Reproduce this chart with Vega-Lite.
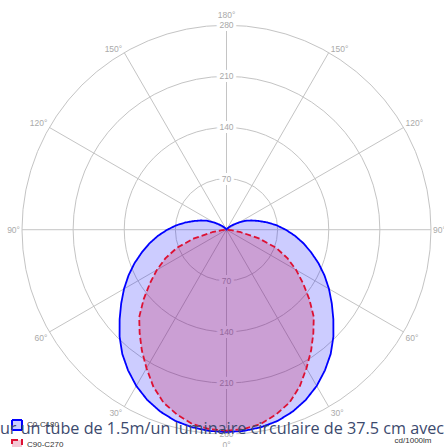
{
  "$schema": "https://vega.github.io/schema/vega-lite/v6.json",
  "width": 444,
  "height": 447,
  "autosize": "none",
  "padding": 0,
  "background": "white",
  "config": {
    "view": {"stroke": null},
    "legend": {"title": null, "symbolType": "square", "symbolSize": 100, "symbolStrokeWidth": 2, "labelFontSize": 8, "labelFont": "Liberation Sans", "labelColor": "#333333", "rowPadding": 2, "labelOffset": 4, "padding": 0, "symbolOffset": 0}
  },
  "title": {
    "text": "ur un tube de 1.5m/un luminaire circulaire de 37.5 cm avec",
    "orient": "bottom",
    "frame": "group",
    "anchor": "middle",
    "baseline": "alphabetic",
    "offset": -20,
    "fontSize": 16.2,
    "font": "Open Sans",
    "fontWeight": "normal",
    "color": "#3c4a6e"
  },
  "layer": [
    {
      "data": {"values": [{"r": 70}, {"r": 140}, {"r": 210}, {"r": 280}]},
      "transform": [{"calculate": "0", "as": "ox"}],
      "mark": {"type": "point", "shape": "circle", "filled": false, "stroke": "#c4c4c4", "strokeWidth": 1, "opacity": 1},
      "encoding": {
        "x": {
          "field": "ox", "type": "quantitative",
          "scale": {"domain": [-310.1, 297.8], "nice": false, "zero": false},
          "axis": {"domain": false, "ticks": false, "labels": false, "grid": false, "title": "cd/1000lm", "titleX": 431, "titleY": -5, "titleAlign": "right", "titleAnchor": "end", "titleBaseline": "alphabetic", "titleFontSize": 8, "titleFontWeight": "normal", "titleColor": "#333333", "titleFont": "Liberation Sans"}
        },
        "y": {
          "field": "ox", "type": "quantitative",
          "scale": {"domain": [-297.5, 314.5], "nice": false, "zero": false},
          "axis": null
        },
        "size": {"field": "r", "type": "quantitative", "scale": {"type": "pow", "exponent": 2, "domain": [0, 280], "range": [0, 167281], "zero": true, "nice": false}, "legend": null}
      }
    },
    {
      "data": {"values": [{"p": 0}, {"p": 30}, {"p": 60}, {"p": 90}, {"p": 120}, {"p": 150}, {"p": 180}, {"p": 210}, {"p": 240}, {"p": 270}, {"p": 300}, {"p": 330}]},
      "transform": [
        {"calculate": "0", "as": "ox"},
        {"calculate": "280*sin(datum.p*PI/180)", "as": "ex"},
        {"calculate": "-280*cos(datum.p*PI/180)", "as": "ey"}
      ],
      "mark": {"type": "rule", "stroke": "#c4c4c4", "strokeWidth": 1},
      "encoding": {
        "x": {"field": "ox", "type": "quantitative"},
        "y": {"field": "ox", "type": "quantitative"},
        "x2": {"field": "ex"},
        "y2": {"field": "ey"}
      }
    },
    {
      "data": {"values": [{"p": 180, "r": 70}, {"p": 180, "r": 140}, {"p": 180, "r": 210}, {"p": 180, "r": 280}, {"p": 0, "r": 70}, {"p": 0, "r": 140}, {"p": 0, "r": 210}, {"p": 0, "r": 280}]},
      "transform": [{"calculate": "0", "as": "ox"}, {"calculate": "-datum.r*cos(datum.p*PI/180)", "as": "ly"}],
      "mark": {"type": "text", "fontSize": 8.5, "font": "Liberation Sans", "stroke": "white", "strokeWidth": 6, "fill": "white", "align": "center", "baseline": "middle"},
      "encoding": {
        "x": {"field": "ox", "type": "quantitative"},
        "y": {"field": "ly", "type": "quantitative"},
        "text": {"field": "r", "type": "quantitative"}
      }
    },
    {
      "data": {"values": [{"p": 180, "r": 70}, {"p": 180, "r": 140}, {"p": 180, "r": 210}, {"p": 180, "r": 280}, {"p": 0, "r": 70}, {"p": 0, "r": 140}, {"p": 0, "r": 210}, {"p": 0, "r": 280}]},
      "transform": [{"calculate": "0", "as": "ox"}, {"calculate": "-datum.r*cos(datum.p*PI/180)", "as": "ly"}],
      "mark": {"type": "text", "fontSize": 8.5, "font": "Liberation Sans", "fill": "#a8a8a8", "align": "center", "baseline": "middle"},
      "encoding": {
        "x": {"field": "ox", "type": "quantitative"},
        "y": {"field": "ly", "type": "quantitative"},
        "text": {"field": "r", "type": "quantitative"}
      }
    },
    {
      "data": {"values": [
        {"p": 0, "lab": "0°"}, {"p": 30, "lab": "30°"}, {"p": 60, "lab": "60°"}, {"p": 90, "lab": "90°"},
        {"p": 120, "lab": "120°"}, {"p": 150, "lab": "150°"}, {"p": 180, "lab": "180°"},
        {"p": 210, "lab": "150°"}, {"p": 240, "lab": "120°"}, {"p": 270, "lab": "90°"},
        {"p": 300, "lab": "60°"}, {"p": 330, "lab": "30°"}
      ]},
      "transform": [
        {"calculate": "280*sin(datum.p*PI/180)", "as": "lx"},
        {"calculate": "-280*cos(datum.p*PI/180)", "as": "ly"}
      ],
      "mark": {
        "type": "text", "fontSize": 8.5, "font": "Liberation Sans", "fill": "#aaaaaa",
        "align": {"expr": "datum.p==0||datum.p==180?'center':datum.p<180?'left':'right'"},
        "baseline": {"expr": "datum.p==180?'bottom':(datum.p==90||datum.p==270)?'middle':(datum.p>90&&datum.p<270)?'alphabetic':'top'"},
        "dx": {"expr": "datum.p==0||datum.p==180?0:datum.p<180?2:-2"},
        "dy": {"expr": "datum.p==180?-5:datum.p==0?7:(datum.p==90||datum.p==270)?0:(datum.p>90&&datum.p<270)?-1:2"}
      },
      "encoding": {
        "x": {"field": "lx", "type": "quantitative"},
        "y": {"field": "ly", "type": "quantitative"},
        "text": {"field": "lab", "type": "nominal"}
      }
    },
    {
      "data": {"values": [
        {"s": "C0-C180", "p": 0, "i": 277}, {"s": "C0-C180", "p": 5, "i": 276.5}, {"s": "C0-C180", "p": 10, "i": 274.5}, {"s": "C0-C180", "p": 15, "i": 271},
        {"s": "C0-C180", "p": 20, "i": 265}, {"s": "C0-C180", "p": 25, "i": 257}, {"s": "C0-C180", "p": 30, "i": 247}, {"s": "C0-C180", "p": 35, "i": 235},
        {"s": "C0-C180", "p": 40, "i": 222}, {"s": "C0-C180", "p": 45, "i": 207}, {"s": "C0-C180", "p": 50, "i": 191}, {"s": "C0-C180", "p": 55, "i": 176},
        {"s": "C0-C180", "p": 60, "i": 162}, {"s": "C0-C180", "p": 65, "i": 148}, {"s": "C0-C180", "p": 70, "i": 134}, {"s": "C0-C180", "p": 75, "i": 120},
        {"s": "C0-C180", "p": 80, "i": 107}, {"s": "C0-C180", "p": 85, "i": 94}, {"s": "C0-C180", "p": 90, "i": 81}, {"s": "C0-C180", "p": 95, "i": 69},
        {"s": "C0-C180", "p": 100, "i": 57}, {"s": "C0-C180", "p": 105, "i": 46}, {"s": "C0-C180", "p": 110, "i": 37}, {"s": "C0-C180", "p": 115, "i": 29},
        {"s": "C0-C180", "p": 120, "i": 20}, {"s": "C0-C180", "p": 125, "i": 13}, {"s": "C0-C180", "p": 130, "i": 8.5}, {"s": "C0-C180", "p": 135, "i": 5},
        {"s": "C0-C180", "p": 140, "i": 2.5}, {"s": "C0-C180", "p": 145, "i": 1}, {"s": "C0-C180", "p": 150, "i": 0}, {"s": "C0-C180", "p": 180, "i": 0},
        {"s": "C0-C180", "p": 210, "i": 0}, {"s": "C0-C180", "p": 215, "i": 1}, {"s": "C0-C180", "p": 220, "i": 2.5}, {"s": "C0-C180", "p": 225, "i": 5},
        {"s": "C0-C180", "p": 230, "i": 8.5}, {"s": "C0-C180", "p": 235, "i": 13}, {"s": "C0-C180", "p": 240, "i": 20}, {"s": "C0-C180", "p": 245, "i": 29},
        {"s": "C0-C180", "p": 250, "i": 37}, {"s": "C0-C180", "p": 255, "i": 46}, {"s": "C0-C180", "p": 260, "i": 57}, {"s": "C0-C180", "p": 265, "i": 69},
        {"s": "C0-C180", "p": 270, "i": 81}, {"s": "C0-C180", "p": 275, "i": 94}, {"s": "C0-C180", "p": 280, "i": 107}, {"s": "C0-C180", "p": 285, "i": 120},
        {"s": "C0-C180", "p": 290, "i": 134}, {"s": "C0-C180", "p": 295, "i": 148}, {"s": "C0-C180", "p": 300, "i": 162}, {"s": "C0-C180", "p": 305, "i": 176},
        {"s": "C0-C180", "p": 310, "i": 191}, {"s": "C0-C180", "p": 315, "i": 207}, {"s": "C0-C180", "p": 320, "i": 222}, {"s": "C0-C180", "p": 325, "i": 235},
        {"s": "C0-C180", "p": 330, "i": 247}, {"s": "C0-C180", "p": 335, "i": 257}, {"s": "C0-C180", "p": 340, "i": 265}, {"s": "C0-C180", "p": 345, "i": 271},
        {"s": "C0-C180", "p": 350, "i": 274.5}, {"s": "C0-C180", "p": 355, "i": 276.5}, {"s": "C0-C180", "p": 360, "i": 277},
        {"s": "C90-C270", "p": 0, "i": 275}, {"s": "C90-C270", "p": 5, "i": 274}, {"s": "C90-C270", "p": 10, "i": 270}, {"s": "C90-C270", "p": 15, "i": 262},
        {"s": "C90-C270", "p": 20, "i": 252}, {"s": "C90-C270", "p": 25, "i": 237}, {"s": "C90-C270", "p": 30, "i": 219}, {"s": "C90-C270", "p": 35, "i": 202},
        {"s": "C90-C270", "p": 40, "i": 185}, {"s": "C90-C270", "p": 45, "i": 169}, {"s": "C90-C270", "p": 50, "i": 148}, {"s": "C90-C270", "p": 55, "i": 128},
        {"s": "C90-C270", "p": 60, "i": 110}, {"s": "C90-C270", "p": 65, "i": 92}, {"s": "C90-C270", "p": 70, "i": 72}, {"s": "C90-C270", "p": 75, "i": 46},
        {"s": "C90-C270", "p": 80, "i": 20}, {"s": "C90-C270", "p": 85, "i": 6}, {"s": "C90-C270", "p": 90, "i": 0}, {"s": "C90-C270", "p": 180, "i": 0},
        {"s": "C90-C270", "p": 270, "i": 0}, {"s": "C90-C270", "p": 275, "i": 6}, {"s": "C90-C270", "p": 280, "i": 20}, {"s": "C90-C270", "p": 285, "i": 46},
        {"s": "C90-C270", "p": 290, "i": 72}, {"s": "C90-C270", "p": 295, "i": 92}, {"s": "C90-C270", "p": 300, "i": 110}, {"s": "C90-C270", "p": 305, "i": 128},
        {"s": "C90-C270", "p": 310, "i": 148}, {"s": "C90-C270", "p": 315, "i": 169}, {"s": "C90-C270", "p": 320, "i": 185}, {"s": "C90-C270", "p": 325, "i": 202},
        {"s": "C90-C270", "p": 330, "i": 219}, {"s": "C90-C270", "p": 335, "i": 237}, {"s": "C90-C270", "p": 340, "i": 252}, {"s": "C90-C270", "p": 345, "i": 262},
        {"s": "C90-C270", "p": 350, "i": 270}, {"s": "C90-C270", "p": 355, "i": 274}, {"s": "C90-C270", "p": 360, "i": 275}
      ]},
      "transform": [
        {"calculate": "datum.i*sin(datum.p*PI/180)", "as": "cx"},
        {"calculate": "-datum.i*cos(datum.p*PI/180)", "as": "cy"}
      ],
      "mark": {"type": "line", "fillOpacity": 1, "strokeWidth": 1.8, "strokeJoin": "round"},
      "encoding": {
        "x": {"field": "cx", "type": "quantitative"},
        "y": {"field": "cy", "type": "quantitative"},
        "order": {"field": "p", "type": "quantitative"},
        "stroke": {
          "field": "s", "type": "nominal",
          "scale": {"domain": ["C0-C180", "C90-C270"], "range": ["#0000ff", "#dd1133"]},
          "legend": {"orient": "none", "legendX": 11, "legendY": 419}
        },
        "fill": {
          "field": "s", "type": "nominal",
          "scale": {"domain": ["C0-C180", "C90-C270"], "range": ["rgba(0,0,255,0.2)", "rgba(200,0,60,0.22)"]},
          "legend": {"orient": "none", "legendX": 11, "legendY": 419}
        },
        "strokeDash": {
          "field": "s", "type": "nominal",
          "scale": {"domain": ["C0-C180", "C90-C270"], "range": [[1, 0], [6, 3]]},
          "legend": {"orient": "none", "legendX": 11, "legendY": 419}
        }
      }
    }
  ]
}
